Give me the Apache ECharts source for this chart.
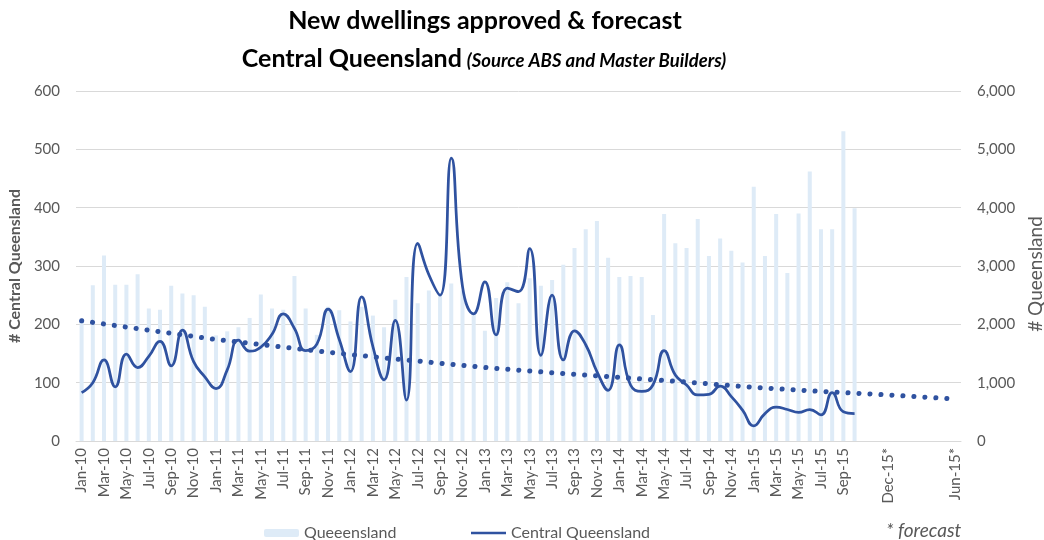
<!DOCTYPE html>
<html>
<head>
<meta charset="utf-8">
<script src="https://cdn.jsdelivr.net/npm/echarts@6/dist/echarts.min.js"></script>
<style>
  html, body { margin: 0; padding: 0; background: #fff; }
  #chart { width: 1044px; height: 540px; }
</style>
</head>
<body>
<div id="chart"></div>
<script>
// Monthly categories, Jan-10 to Oct-15, followed by the forecast horizon
const categories = [
  'Jan-10','Feb-10','Mar-10','Apr-10','May-10','Jun-10','Jul-10','Aug-10','Sep-10','Oct-10','Nov-10','Dec-10',
  'Jan-11','Feb-11','Mar-11','Apr-11','May-11','Jun-11','Jul-11','Aug-11','Sep-11','Oct-11','Nov-11','Dec-11',
  'Jan-12','Feb-12','Mar-12','Apr-12','May-12','Jun-12','Jul-12','Aug-12','Sep-12','Oct-12','Nov-12','Dec-12',
  'Jan-13','Feb-13','Mar-13','Apr-13','May-13','Jun-13','Jul-13','Aug-13','Sep-13','Oct-13','Nov-13','Dec-13',
  'Jan-14','Feb-14','Mar-14','Apr-14','May-14','Jun-14','Jul-14','Aug-14','Sep-14','Oct-14','Nov-14','Dec-14',
  'Jan-15','Feb-15','Mar-15','Apr-15','May-15','Jun-15','Jul-15','Aug-15','Sep-15','Oct-15',
  '','','Dec-15*','','','','','','Jun-15*'
];

// Dwellings approved, Queensland (right axis)
const queensland = [
  2050,2670,3180,2680,2680,2860,2270,2250,2660,2530,2500,2300,
  1810,1880,1950,2110,2510,2270,2250,2830,2270,1820,2300,2240,
  2050,2300,2150,1950,2420,2810,2360,2580,2500,2700,2580,2160,
  1890,2450,2720,2360,2790,2660,2760,3020,3310,3630,3770,3140,
  2810,2830,2810,2160,3890,3390,3310,3805,3170,3470,3260,3060,
  4360,3170,3890,2880,3900,4620,3630,3630,5310,3990
];

// Dwellings approved, Central Queensland (left axis)
const centralQld = [
  83,100,139,93,149,126,145,171,129,190,136,110,
  90,122,173,154,161,183,218,193,155,166,226,174,
  119,247,162,105,207,70,339,285,250,485,265,218,
  273,182,262,256,330,147,250,139,189,165,119,87,
  165,96,85,96,155,113,96,79,80,94,76,53,
  26,47,58,54,49,54,45,83,50,47
];

// Trend / forecast for Central Queensland, one value every six months
const trendIndex = [0,6,12,18,24,30,36,42,48,54,60,66,72,78];
const trendValue = [206,190,174,161,148,137,126,117,109,101,92,85,79,72];

const leftTicks = { min: 0, max: 600, interval: 100 };
const rightTicks = { min: 0, max: 6000, interval: 1000 };

const trendSeries = categories.map(() => null);
trendIndex.forEach((idx, k) => { trendSeries[idx] = trendValue[k]; });

const FONT = 'Lato';
const GREY = '#595959';
const BLUE = '#2f52a0';

const chart = echarts.init(document.getElementById('chart'));
chart.setOption({
  animation: false,
  backgroundColor: '#ffffff',
  title: [
    {
      text: 'New dwellings approved & forecast',
      left: 485, top: 8, padding: 0, textAlign: 'center',
      textStyle: { fontFamily: FONT, fontWeight: 'bold', fontSize: 25, color: '#000' }
    },
    {
      text: '{a|Central Queensland} {b|(Source ABS and Master Builders)}',
      left: 484, top: 43, padding: 0, textAlign: 'center',
      textStyle: {
        rich: {
          a: { fontFamily: FONT, fontWeight: 'bold', fontSize: 25, color: '#000', lineHeight: 28, verticalAlign: 'bottom' },
          b: { fontFamily: FONT, fontWeight: 'bold', fontStyle: 'italic', fontSize: 18.5, color: '#000', lineHeight: 28, verticalAlign: 'bottom' }
        }
      }
    }
  ],
  grid: { left: 76, right: 83, top: 91, bottom: 99, containLabel: false, outerBoundsMode: 'none' },
  legend: [
    {
      data: ['Queeensland'], left: 259, top: 520, itemWidth: 35, itemHeight: 8, itemGap: 6,
      textStyle: { fontFamily: FONT, fontSize: 16, color: GREY }
    },
    {
      data: [{ name: 'Central Queensland', icon: 'rect' }], left: 466, top: 520,
      itemWidth: 35, itemHeight: 2.5, itemGap: 6,
      textStyle: { fontFamily: FONT, fontSize: 16, color: GREY }
    }
  ],
  xAxis: {
    type: 'category',
    data: categories,
    boundaryGap: true,
    axisTick: { show: false },
    axisLine: { lineStyle: { color: '#d9d9d9', width: 1 } },
    axisLabel: {
      interval: 1, rotate: 90, margin: 7,
      fontFamily: FONT, fontSize: 15, color: GREY
    }
  },
  yAxis: [
    {
      type: 'value', position: 'left', ...leftTicks,
      name: '# Central Queensland', nameLocation: 'middle', nameGap: 51, nameRotate: 90,
      nameTextStyle: { fontFamily: FONT, fontWeight: 'bold', fontSize: 16, color: GREY },
      axisLine: { show: false }, axisTick: { show: false },
      axisLabel: { fontFamily: FONT, fontSize: 15, color: GREY, margin: 16 },
      splitLine: { lineStyle: { color: '#d9d9d9', width: 1 } }
    },
    {
      type: 'value', position: 'right', ...rightTicks,
      name: '# Queensland', nameLocation: 'middle', nameGap: 64, nameRotate: 90,
      nameTextStyle: { fontFamily: FONT, fontSize: 19, color: GREY, padding: [0, 16, 0, 0] },
      axisLine: { show: false }, axisTick: { show: false },
      axisLabel: {
        fontFamily: FONT, fontSize: 15, color: GREY, margin: 16,
        formatter: v => v.toLocaleString('en-US')
      },
      splitLine: { show: false }
    }
  ],
  series: [
    {
      name: 'Queeensland', type: 'bar', yAxisIndex: 1,
      data: queensland, barWidth: 4,
      itemStyle: { color: '#deebf7' }, z: 1
    },
    {
      name: 'Central Queensland', type: 'line', yAxisIndex: 0,
      data: centralQld, smooth: 0.5, symbol: 'none',
      lineStyle: { color: BLUE, width: 2.75 }, itemStyle: { color: BLUE }, z: 3
    },
    {
      name: 'Trend', type: 'line', yAxisIndex: 0,
      data: trendSeries, connectNulls: true, symbol: 'none',
      lineStyle: { color: BLUE, width: 5, type: [0.1, 10.9], cap: 'round' },
      z: 2, silent: true
    }
  ],
  graphic: [
    {
      type: 'text', left: 886, top: 521,
      style: { text: '* forecast', font: 'italic 19px Lato', fill: GREY }
    }
  ]
});
</script>
</body>
</html>
